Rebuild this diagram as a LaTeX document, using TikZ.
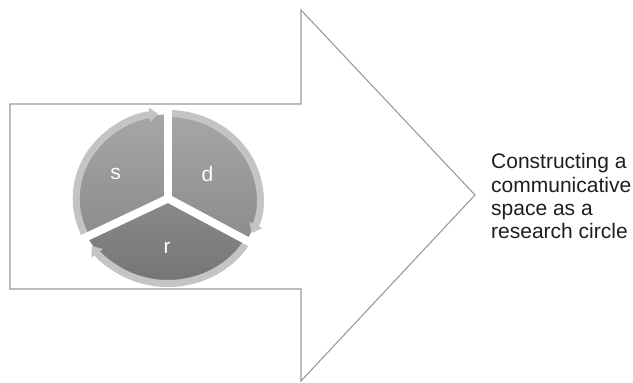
\documentclass[tikz,border=0pt]{standalone}
\usepackage{fontspec}
\setmainfont{Liberation Sans}
\usetikzlibrary{arrows.meta}
\definecolor{outline}{HTML}{9A9A9A}
\definecolor{band}{HTML}{C4C4C4}
\definecolor{segtop}{HTML}{A6A6A6}
\definecolor{segbot}{HTML}{8C8C8C}
\definecolor{rtop}{HTML}{8A8A8A}
\definecolor{rbot}{HTML}{727272}
\definecolor{txt}{HTML}{1E1E1E}
\begin{document}
\begin{tikzpicture}[x=1pt,y=1pt,
  arrowline/.style={draw=outline, line width=1.1pt, line join=miter},
  bandarc/.style={draw=band, line width=7pt, -{Triangle[width=14pt,length=9pt]}},
  gapline/.style={draw=white, line width=8pt},
  lbl/.style={text=white, font=\fontsize{21}{24}\selectfont, inner sep=0pt, anchor=base},
  caption/.style={text=txt, font=\fontsize{21}{23.3}\selectfont, inner sep=0pt, align=left, anchor=north west}]
\useasboundingbox (0,0) rectangle (633,383);
% big arrow outline
\coordinate (a1) at (10,279);
\coordinate (a2) at (301,279);
\coordinate (a3) at (301,373);
\coordinate (tip) at (475,188);
\coordinate (a5) at (301,2);
\coordinate (a6) at (301,94);
\coordinate (a7) at (10,94);
\draw[arrowline, fill=white] (a1) -- (a2) -- (a3) -- (tip) -- (a5) -- (a6) -- (a7) -- cycle;
% cycle diagram
\begin{scope}[shift={(168,184.5)}, xscale=1.08]
  \shade[top color=segtop, bottom color=segbot] (0,0) -- (90:84) arc[start angle=90, end angle=207, radius=84] -- cycle;
  \shade[top color=segtop, bottom color=segbot] (0,0) -- (-30:84) arc[start angle=-30, end angle=90, radius=84] -- cycle;
  \shade[top color=rtop, bottom color=rbot] (0,0) -- (207:84) arc[start angle=207, end angle=330, radius=84] -- cycle;
  \draw[bandarc] (207:85) arc[start angle=207, end angle=96, radius=85];
  \draw[bandarc] (90:85) arc[start angle=90, end angle=-24, radius=85];
  \draw[bandarc] (-30:85) arc[start angle=-30, end angle=-146, radius=85];
  \draw[gapline] (0,0) -- (90:92);
  \draw[gapline] (0,0) -- (207:100);
  \draw[gapline] (0,0) -- (330:100);
\end{scope}
\node[lbl] (s) at (115.5,203) {s};
\node[lbl] (d) at (207.5,201.5) {d};
\node[lbl] (r) at (167,129) {r};
\node[caption] (cap) at (491,229.5) {Constructing a\\communicative\\space as a\\research circle};
\end{tikzpicture}
\end{document}
